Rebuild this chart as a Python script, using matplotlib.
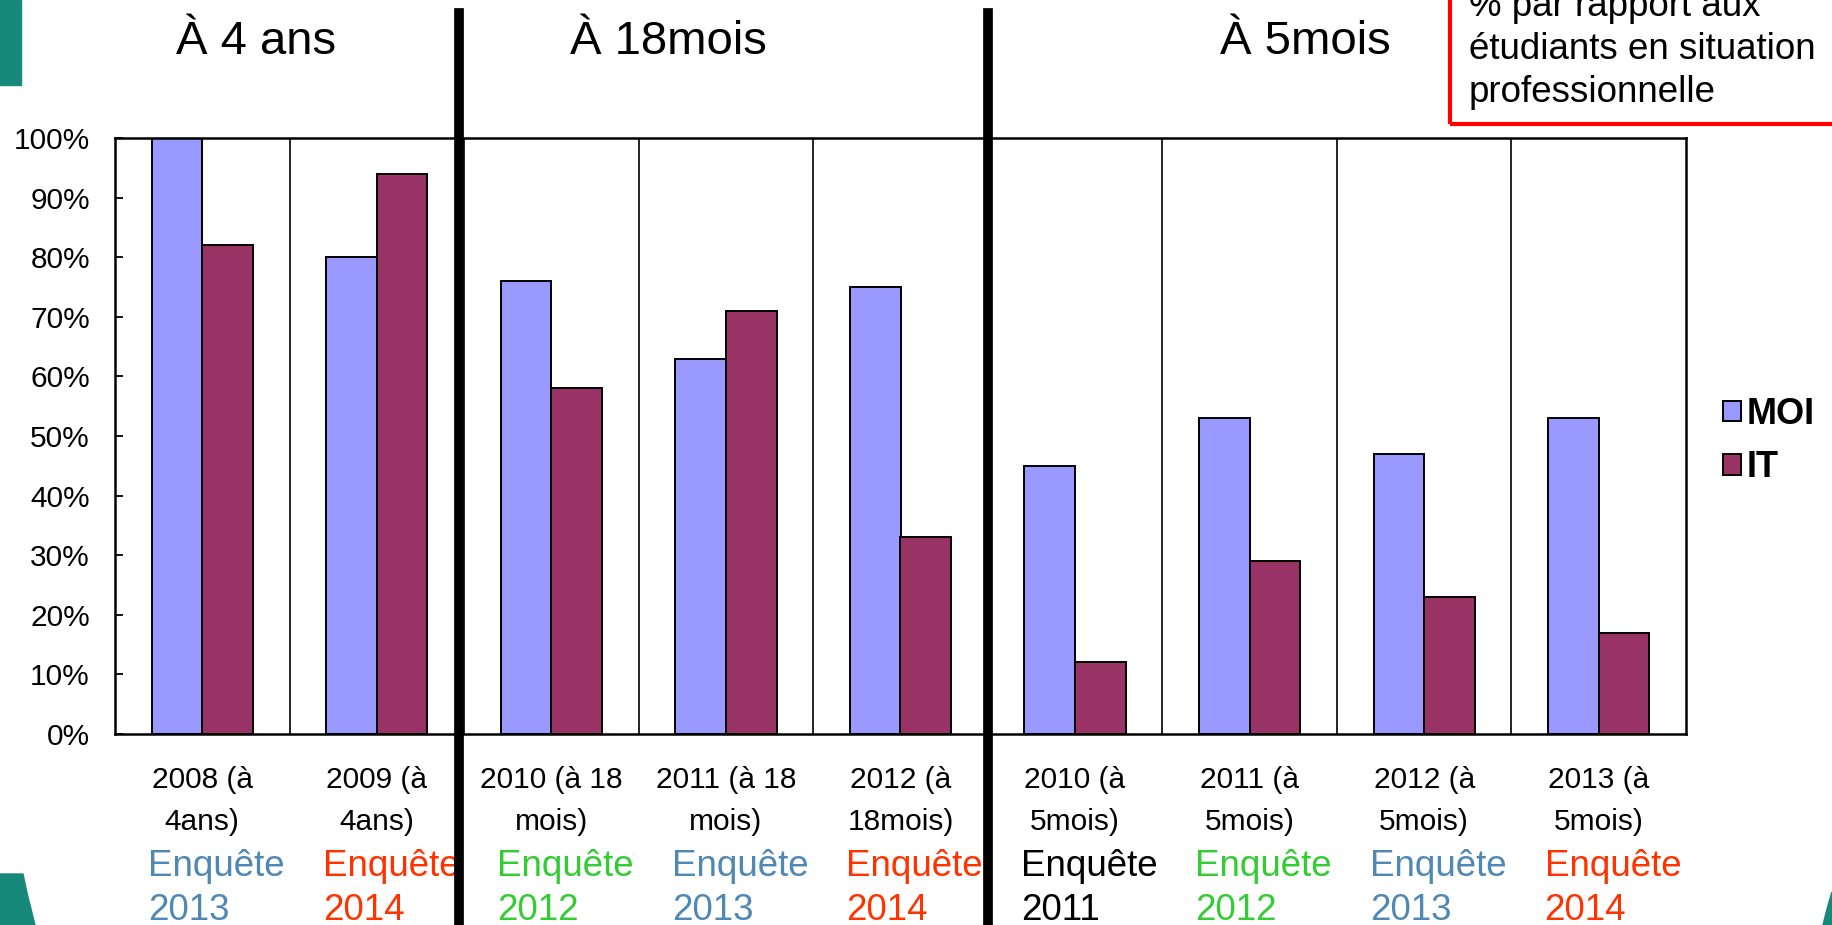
import matplotlib
matplotlib.use("Agg")
import matplotlib.pyplot as plt
from matplotlib.patches import Rectangle, Polygon
from matplotlib.transforms import blended_transform_factory

plt.rcParams["font.family"] = ["Liberation Sans", "DejaVu Sans"]

# data
cat_line1 = ["2008 (à", "2009 (à", "2010 (à 18", "2011 (à 18", "2012 (à",
             "2010 (à", "2011 (à", "2012 (à", "2013 (à"]
cat_line2 = ["4ans)", "4ans)", "mois)", "mois)", "18mois)",
             "5mois)", "5mois)", "5mois)", "5mois)"]
survey_year = ["2013", "2014", "2012", "2013", "2014", "2011", "2012", "2013", "2014"]
moi = [100, 80, 76, 63, 75, 45, 53, 47, 53]
it = [82, 94, 58, 71, 33, 12, 29, 23, 17]
groups = ["À 4 ans", "À 18mois", "À 5mois"]
group_centers = [0.31, 2.67, 6.32]
group_edges = [1.47, 4.5]
yticks = [0, 10, 20, 30, 40, 50, 60, 70, 80, 90, 100]

year_colors = {"2011": "black", "2012": "#33CC33", "2013": "#4F87B5", "2014": "#FF3300"}
MOI_COLOR = "#9999FF"
IT_COLOR = "#993366"
TEAL = "#16897A"

W, H = 1832, 925
fig = plt.figure(figsize=(W / 100, H / 100), dpi=100)
ax = fig.add_axes([115 / W, 1 - 734 / H, (1686 - 115) / W, (734 - 138) / H])

x = list(range(len(moi)))
bw = 0.29
b1 = ax.bar([i - bw / 2 for i in x], moi, bw, color=MOI_COLOR, edgecolor="black", linewidth=1.4, label="MOI")
b2 = ax.bar([i + bw / 2 for i in x], it, bw, color=IT_COLOR, edgecolor="black", linewidth=1.4, label="IT")

ax.set_xlim(-0.5, len(moi) - 0.5)
ax.set_ylim(0, 100)
for k in range(1, len(moi)):
    ax.axvline(k - 0.5, color="black", linewidth=1.2, zorder=0)

ax.set_yticks(yticks)
ax.set_yticklabels([f"{v}%" for v in yticks])
ax.tick_params(axis="y", direction="in", length=6, width=1.3, labelsize=21.5, pad=18)
ax.set_xticks([])
for s in ax.spines.values():
    s.set_linewidth(1.8)
    s.set_color("black")

# category labels under the axis
tr = blended_transform_factory(ax.transData, fig.transFigure)
for i in x:
    ax.text(i, 1 - 780 / H, cat_line1[i], transform=tr, ha="center", va="center", fontsize=21.5)
    ax.text(i, 1 - 822 / H, cat_line2[i], transform=tr, ha="center", va="center", fontsize=21.5)
    c = year_colors[survey_year[i]]
    ax.text(i - 0.31, 1 - 867 / H, "Enquête", transform=tr, ha="left", va="center", fontsize=26.5, color=c)
    ax.text(i - 0.31, 1 - 910 / H, survey_year[i], transform=tr, ha="left", va="center", fontsize=26.5, color=c)

# group separators and headers
for gx in group_edges:
    ax.plot([gx, gx], [0, 1 - 13 / H], transform=tr, color="black", linewidth=7, clip_on=False, zorder=5)
for g, gc in zip(groups, group_centers):
    ax.text(gc, 1 - 42 / H, g, transform=tr, ha="center", va="center", fontsize=34)

# legend
ax.legend(handles=[b1, b2], labels=["MOI", "IT"], loc="upper left",
          bbox_to_anchor=(1723 / W, 1 - 397 / H), bbox_transform=fig.transFigure,
          frameon=False, borderpad=0, borderaxespad=0, handlelength=0.5, handleheight=0.5,
          handletextpad=0.15, labelspacing=0.5, prop={"size": 26, "weight": "bold"})

# red note box (cut by the top-right edge)
fig.patches.append(Rectangle((1450 / W, 1 - 124 / H), 0.5, 0.5, transform=fig.transFigure,
                             fill=False, edgecolor="#FF0000", linewidth=3))
note = ["% par rapport aux", "étudiants en situation", "professionnelle"]
for k, line in enumerate(note):
    fig.text(1469 / W, 1 - (16 + 43 * k) / H, line, ha="left", va="baseline", fontsize=26.5)

# teal slide decorations
def px(pts):
    return [(a / W, 1 - b / H) for a, b in pts]

fig.patches.append(Polygon(px([(0, 0), (21, 0), (21, 85), (0, 85)]), closed=True,
                           transform=fig.transFigure, color=TEAL))
fig.patches.append(Polygon(px([(0, 874), (23, 874), (27, 893), (31, 909), (35, 925), (0, 925)]),
                           closed=True, transform=fig.transFigure, color=TEAL))
fig.patches.append(Polygon(px([(1832, 892), (1829, 902), (1826, 913), (1823, 925), (1832, 925)]),
                           closed=True, transform=fig.transFigure, color=TEAL))

fig.savefig("out.png", dpi=100)
